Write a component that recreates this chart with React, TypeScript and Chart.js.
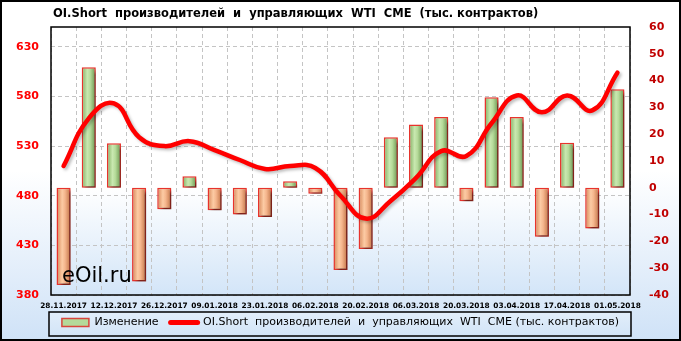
import React, { useEffect, useRef } from 'react';
import { Chart, registerables } from 'chart.js';

Chart.register(...registerables);

const categories = [
  '28.11.2017', '05.12.2017', '12.12.2017', '19.12.2017', '26.12.2017', '02.01.2018',
  '09.01.2018', '16.01.2018', '23.01.2018', '30.01.2018', '06.02.2018', '13.02.2018',
  '20.02.2018', '27.02.2018', '06.03.2018', '13.03.2018', '20.03.2018', '27.03.2018',
  '03.04.2018', '10.04.2018', '17.04.2018', '24.04.2018', '01.05.2018',
];
const changeValues = [
  -36.3, 45, 16.6, -35, -8, 4.3, -8.4, -10, -10.9, 2.4, -2.2, -30.7,
  -22.8, 18.9, 23.6, 26.4, -5, 33.8, 26.4, -18.3, 16.8, -15.2, 36.8,
];
const oiShortValues = [
  510, 558, 573, 539, 530, 535, 526, 516, 507, 510, 508, 480,
  457, 475, 498, 525, 520, 553, 581, 564, 581, 566, 604,
];
const leftTicks = [380, 430, 480, 530, 580, 630];
const rightTicks = [-40, -30, -20, -10, 0, 10, 20, 30, 40, 50, 60];
const titleText = 'OI.Short  производителей  и  управляющих  WTI  CME  (тыс. контрактов)';
const seriesNames = ['Изменение', 'OI.Short  производителей  и  управляющих  WTI  CME (тыс. контрактов)'];
const watermarkText = 'eOil.ru';

const barFill = (c: any) => {
  const chart = c.chart;
  const xs = chart.scales && chart.scales.x;
  const v = c.raw as number;
  const pos = v >= 0;
  if (!xs || c.dataIndex === undefined || !xs.width) return pos ? '#b4d99a' : '#f7b58a';
  const x = xs.getPixelForValue(c.dataIndex);
  const half = (xs.width / categories.length) * 0.28;
  const g = chart.ctx.createLinearGradient(x - half, 0, x + half, 0);
  if (pos) {
    g.addColorStop(0, '#80ad60');
    g.addColorStop(0.4, '#c9e8b0');
    g.addColorStop(0.6, '#b6db9a');
    g.addColorStop(1, '#67924b');
  } else {
    g.addColorStop(0, '#d48455');
    g.addColorStop(0.4, '#fccba4');
    g.addColorStop(0.6, '#f5b68d');
    g.addColorStop(1, '#c07043');
  }
  return g;
};

const decorPlugin = {
  id: 'decor',
  beforeDraw(chart: any) {
    const { ctx, width, height, chartArea: a } = chart;
    ctx.save();
    const bg = ctx.createLinearGradient(0, 0, 0, height);
    bg.addColorStop(0, '#ffffff');
    bg.addColorStop(0.5, '#ffffff');
    bg.addColorStop(1, '#cfe2f7');
    ctx.fillStyle = bg;
    ctx.fillRect(0, 0, width, height);

    const pg = ctx.createLinearGradient(0, a.top, 0, a.bottom);
    pg.addColorStop(0, '#ffffff');
    pg.addColorStop(0.6, '#ffffff');
    pg.addColorStop(1, '#d3e5f8');
    ctx.fillStyle = pg;
    ctx.fillRect(a.left, a.top, a.right - a.left, a.bottom - a.top);

    const lg = chart.legend;
    if (lg) {
      const h = lg.height - 2;
      const lgGrad = ctx.createLinearGradient(0, lg.top, 0, lg.top + h);
      lgGrad.addColorStop(0, '#e2eefa');
      lgGrad.addColorStop(1, '#d2e4f7');
      ctx.fillStyle = lgGrad;
      ctx.fillRect(a.left - 2, lg.top, a.right - a.left + 3, h);
      ctx.strokeStyle = '#000';
      ctx.lineWidth = 1.5;
      ctx.strokeRect(a.left - 2, lg.top, a.right - a.left + 3, h);
    }

    ctx.strokeStyle = '#000';
    ctx.lineWidth = 2;
    ctx.strokeRect(1, 1, width - 2, height - 2);

    ctx.fillStyle = '#000';
    ctx.font = 'bold 11.5px "DejaVu Sans"';
    ctx.textAlign = 'left';
    ctx.textBaseline = 'middle';
    ctx.fillText(titleText, a.left + 2, 14);
    ctx.restore();
  },
  beforeDatasetDraw(chart: any, args: any) {
    const ctx = chart.ctx;
    ctx.save();
    if (args.index === 0) {
      ctx.shadowColor = 'rgba(40,20,10,0.6)';
      ctx.shadowOffsetX = 3;
      ctx.shadowOffsetY = 3;
      ctx.shadowBlur = 3;
    } else {
      ctx.shadowColor = 'rgba(0,0,0,0.25)';
      ctx.shadowOffsetX = 2;
      ctx.shadowOffsetY = 2;
      ctx.shadowBlur = 3;
    }
  },
  afterDatasetDraw(chart: any) {
    chart.ctx.restore();
  },
  afterDatasetsDraw(chart: any) {
    const { ctx, chartArea: a } = chart;
    ctx.save();
    ctx.fillStyle = '#000';
    ctx.font = '21px "DejaVu Sans"';
    ctx.textAlign = 'left';
    ctx.textBaseline = 'alphabetic';
    ctx.fillText(watermarkText, a.left + 11, a.bottom - 13);
    ctx.restore();
  },
  afterDraw(chart: any) {
    const { ctx, chartArea: a } = chart;
    ctx.save();
    ctx.strokeStyle = '#000';
    ctx.lineWidth = 1.5;
    ctx.strokeRect(a.left, a.top, a.right - a.left, a.bottom - a.top);
    ctx.restore();
  },
};

export default function App() {
  const ref = useRef<HTMLCanvasElement | null>(null);

  useEffect(() => {
    document.body.style.margin = '0';
    if (!ref.current) return;
    const tickFont = { family: 'DejaVu Sans', size: 11, weight: 'bold' as const };
    const chart = new Chart(ref.current, {
      type: 'bar',
      data: {
        labels: categories,
        datasets: [
          {
            type: 'bar',
            label: seriesNames[0],
            data: changeValues,
            yAxisID: 'y1',
            backgroundColor: barFill as any,
            borderColor: '#e8332c',
            borderWidth: 1.5,
            borderSkipped: false,
            barPercentage: 0.56,
            categoryPercentage: 1,
            order: 1,
          },
          {
            type: 'line',
            label: seriesNames[1],
            data: oiShortValues,
            yAxisID: 'y',
            borderColor: '#ff0000',
            backgroundColor: '#ff0000',
            borderWidth: 4.5,
            pointRadius: 0,
            tension: 0.45,
            fill: false,
            borderCapStyle: 'round',
            borderJoinStyle: 'round',
            order: 0,
          },
        ] as any,
      },
      options: {
        animation: false,
        responsive: false,
        layout: { padding: { left: 2, right: 2, top: 27, bottom: 3 } },
        plugins: {
          title: { display: false },
          legend: {
            position: 'bottom',
            labels: {
              usePointStyle: true,
              pointStyleWidth: 27,
              boxHeight: 8,
              padding: 5,
              color: '#000',
              font: { family: 'DejaVu Sans', size: 11 },
              generateLabels: () => [
                {
                  text: seriesNames[0] + '  ',
                  fillStyle: '#b4d99a',
                  strokeStyle: '#d9453c',
                  lineWidth: 1.5,
                  pointStyle: 'rect',
                  hidden: false,
                  datasetIndex: 0,
                },
                {
                  text: seriesNames[1],
                  fillStyle: '#ff0000',
                  strokeStyle: '#ff0000',
                  lineWidth: 5,
                  lineCap: 'round',
                  pointStyle: 'line',
                  hidden: false,
                  datasetIndex: 1,
                },
              ] as any,
            },
          },
          tooltip: { enabled: false },
        },
        scales: {
          x: {
            offset: true,
            grid: { display: true, color: '#c4c4c4', lineWidth: 1, drawTicks: false, offset: true },
            border: { display: false, dash: [4, 3] },
            ticks: {
              autoSkip: false,
              maxRotation: 0,
              minRotation: 0,
              padding: 7,
              color: '#000',
              font: { family: 'DejaVu Sans', size: 7.4, weight: 'bold' },
              callback: (_v: any, i: number) => (i % 2 === 0 ? categories[i] : ''),
            },
            afterFit: (s: any) => {
              s.height = 17;
            },
          },
          y: {
            position: 'left',
            min: 380,
            max: 650,
            afterBuildTicks: (s: any) => {
              s.ticks = leftTicks.map((v) => ({ value: v }));
            },
            grid: { display: true, color: '#c4c4c4', lineWidth: 1, drawTicks: false },
            border: { display: false, dash: [4, 3] },
            ticks: { padding: 12, color: '#ff0000', font: tickFont },
            afterFit: (s: any) => {
              s.width = 49;
            },
          },
          y1: {
            position: 'right',
            min: -40,
            max: 60,
            afterBuildTicks: (s: any) => {
              s.ticks = rightTicks.map((v) => ({ value: v }));
            },
            grid: { display: false, drawOnChartArea: false },
            border: { display: false },
            ticks: { padding: 11, color: '#c00000', font: tickFont },
            afterFit: (s: any) => {
              s.width = 49;
            },
          },
        },
      } as any,
      plugins: [decorPlugin as any],
    });
    return () => chart.destroy();
  }, []);

  return (
    <div style={{ position: 'fixed', left: 0, top: 0, width: 681, height: 341 }}>
      <canvas ref={ref} width={681} height={341} style={{ display: 'block' }} />
    </div>
  );
}
